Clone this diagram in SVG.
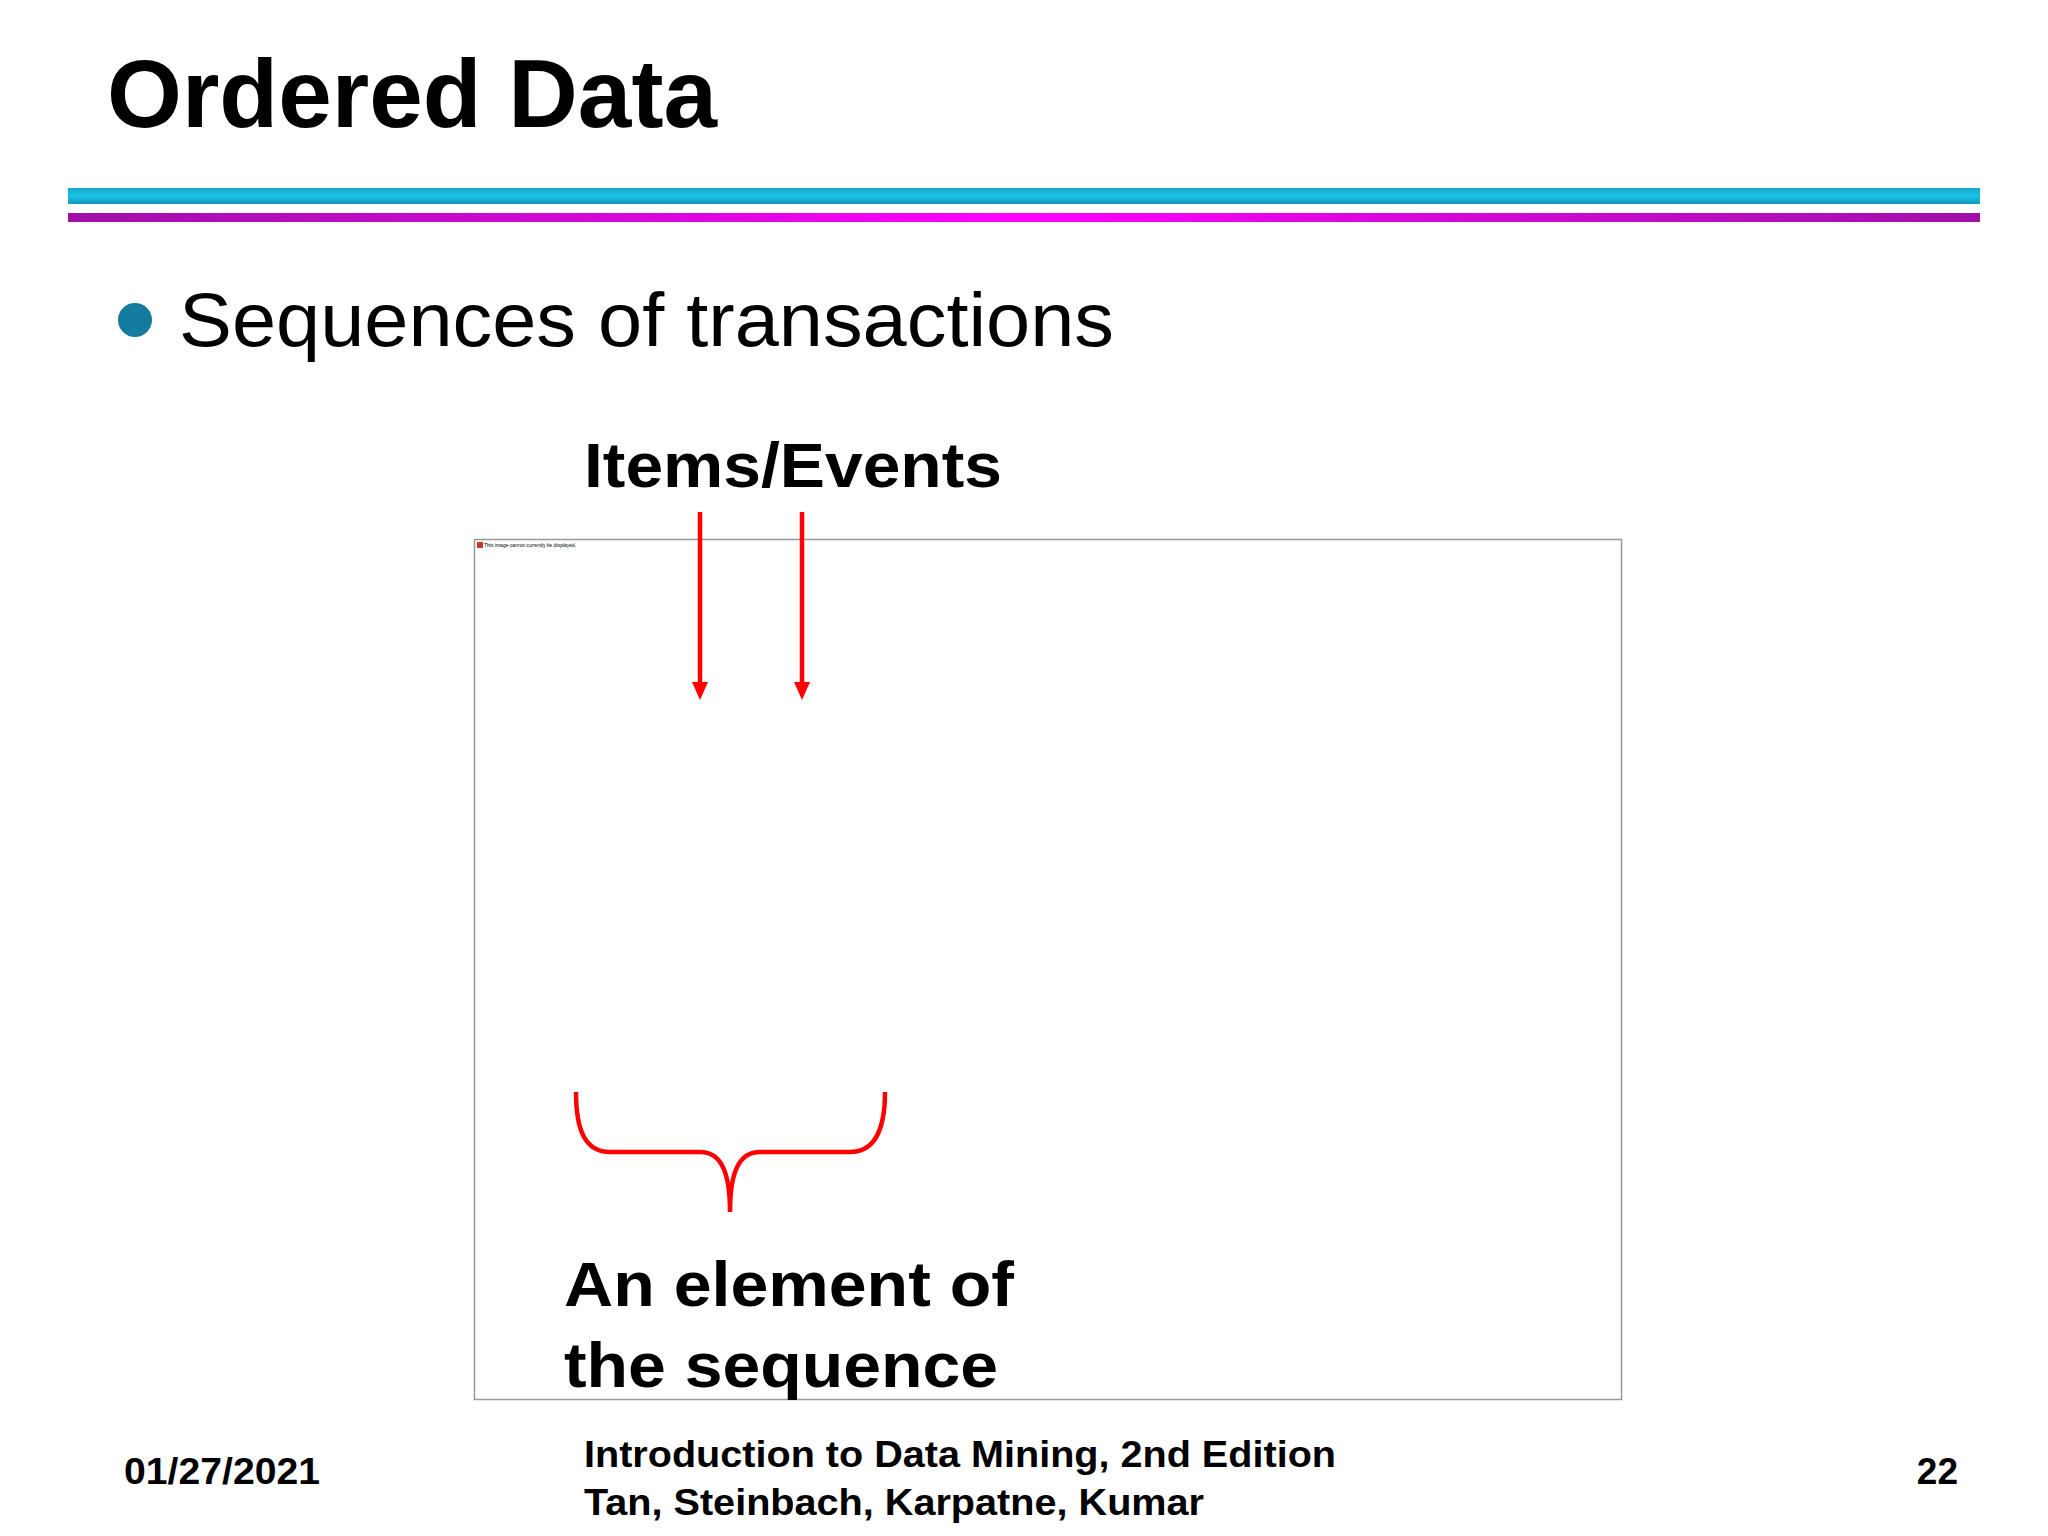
<svg xmlns="http://www.w3.org/2000/svg" width="2048" height="1536" viewBox="0 0 2048 1536">
<defs>
<linearGradient id="cy" x1="0" y1="0" x2="0" y2="1"><stop offset="0" stop-color="#1aa6c8"/><stop offset="0.5" stop-color="#16c4e8"/><stop offset="1" stop-color="#1796b8"/></linearGradient>
<linearGradient id="mg" x1="0" y1="0" x2="1" y2="0"><stop offset="0" stop-color="#a010a8"/><stop offset="0.5" stop-color="#ff00ff"/><stop offset="1" stop-color="#a010a8"/></linearGradient>
<style>
.b{font-family:"Liberation Sans",Arial,sans-serif;font-weight:bold;fill:#000}
.r{font-family:"Liberation Sans",Arial,sans-serif;fill:#000}
.red{stroke:#ff0000;stroke-width:4.5;fill:none}
.ah{fill:#ff0000}
</style>
</defs>
<rect width="2048" height="1536" fill="#fff"/>
<g id="title">
<text class="b" x="107" y="127" font-size="96" textLength="610" lengthAdjust="spacingAndGlyphs">Ordered Data</text>
<rect x="68" y="188" width="1912" height="16" fill="url(#cy)"/>
<rect x="68" y="213" width="1912" height="9" fill="url(#mg)"/>
</g>
<g id="bullet">
<circle cx="135" cy="320" r="17" fill="#147a9e"/>
<text class="r" x="179" y="346" font-size="76" textLength="935" lengthAdjust="spacingAndGlyphs">Sequences of transactions</text>
</g>
<g id="items-label"><text class="b" x="584" y="487" font-size="63" textLength="418" lengthAdjust="spacingAndGlyphs">Items/Events</text></g>
<g id="image-box">
<rect x="474.5" y="539.5" width="1147" height="860" fill="none" stroke="#999" stroke-width="1.5"/>
<rect x="477" y="542" width="6" height="6" fill="#c33"/>
<text class="r" x="484" y="547" font-size="5">This image cannot currently be displayed.</text>
</g>
<g id="connectors">
<line class="red" x1="700" y1="512" x2="700" y2="684"/>
<polygon class="ah" points="692,682 708,682 700,700"/>
<line class="red" x1="802" y1="512" x2="802" y2="684"/>
<polygon class="ah" points="794,682 810,682 802,700"/>
<path class="red" d="M576,1092 C576,1130 585,1152 610,1152 L700,1152 C720,1152 730,1170 730,1212 C730,1170 740,1152 760,1152 L850,1152 C875,1152 885,1130 885,1092"/>
</g>
<g id="element-label">
<text class="b" x="564" y="1306" font-size="63" textLength="450" lengthAdjust="spacingAndGlyphs">An element of</text>
<text class="b" x="564" y="1387" font-size="63" textLength="434" lengthAdjust="spacingAndGlyphs">the sequence</text>
</g>
<g id="footer">
<text class="b" x="124" y="1484" font-size="37" textLength="196" lengthAdjust="spacingAndGlyphs">01/27/2021</text>
<text class="b" x="584" y="1467" font-size="37" textLength="752" lengthAdjust="spacingAndGlyphs">Introduction to Data Mining, 2nd Edition</text>
<text class="b" x="584" y="1515" font-size="37" textLength="620" lengthAdjust="spacingAndGlyphs">Tan, Steinbach, Karpatne, Kumar</text>
<text class="b" x="1958" y="1484" font-size="37" text-anchor="end">22</text>
</g>
</svg>
